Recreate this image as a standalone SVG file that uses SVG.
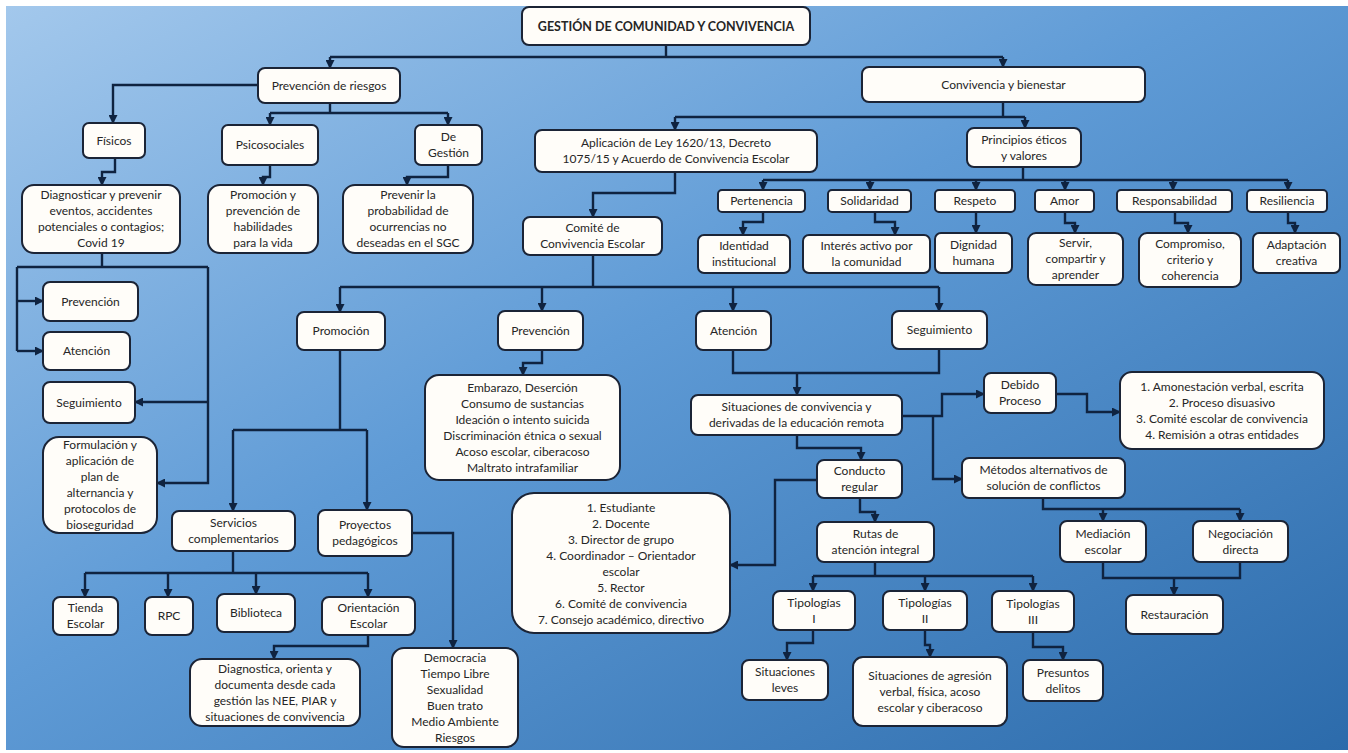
<svg xmlns="http://www.w3.org/2000/svg" width="1348" height="753" viewBox="0 0 1348 753">
<defs>
<linearGradient id="bg" x1="0" y1="0" x2="1" y2="1">
<stop offset="0" stop-color="#a3c8ec"/>
<stop offset="0.45" stop-color="#5f9bd6"/>
<stop offset="1" stop-color="#2c6bab"/>
</linearGradient>
<marker id="ar" markerUnits="userSpaceOnUse" markerWidth="9" markerHeight="9" refX="8" refY="4.5" orient="auto">
<path d="M0,0 L9,4.5 L0,9 z" fill="#0f2340"/>
</marker>
<style>
.n rect{fill:#fffdf9;stroke:#1b2436;stroke-width:2}
text{font-family:Lato,"Open Sans","Liberation Sans",sans-serif;font-size:12px;fill:#262626;text-anchor:middle}
.b{font-weight:bold;font-size:12.5px}
#connectors path{fill:none;stroke:#0f2340;stroke-width:2.4}
#connectors path.a{marker-end:url(#ar)}
</style>
</defs>
<rect x="0" y="0" width="1348" height="753" fill="#ffffff"/>
<rect x="6" y="6" width="1342" height="744" fill="url(#bg)"/>

<g id="connectors">
<path d="M666,45 V57 M330,57 H1003"/>
<path class="a" d="M330,57 V68"/>
<path class="a" d="M1003,57 V67"/>
<path class="a" d="M258,85 H113 V123"/>
<path d="M330,103 V113 M270,113 H448"/>
<path class="a" d="M270,113 V125"/>
<path class="a" d="M448,113 V125"/>
<path class="a" d="M115,158 V172 H102 V185"/>
<path class="a" d="M270,165 V177 H263 V185"/>
<path class="a" d="M448,165 V177 H407 V185"/>
<path d="M102,253 V267 M17,267 H208 M17,267 V351"/>
<path class="a" d="M17,301 H43"/>
<path class="a" d="M17,351 H43"/>
<path class="a" d="M208,267 V483 H157"/>
<path class="a" d="M208,402 H135"/>
<path d="M1003,102 V117 M675,117 H1025"/>
<path class="a" d="M675,117 V130"/>
<path class="a" d="M1025,117 V128"/>
<path d="M1023,167 V180 M763,180 H1288"/>
<path class="a" d="M763,180 V190"/>
<path class="a" d="M870,180 V190"/>
<path class="a" d="M976,180 V190"/>
<path class="a" d="M1065,180 V190"/>
<path class="a" d="M1173,180 V190"/>
<path class="a" d="M1288,180 V190"/>
<path class="a" d="M763,212 V222 H743 V235"/>
<path class="a" d="M875,212 V222 H895 V235"/>
<path class="a" d="M976,212 V233"/>
<path class="a" d="M1065,212 V223 H1075 V233"/>
<path class="a" d="M1175,212 V223 H1188 V233"/>
<path class="a" d="M1288,212 V223 H1295 V233"/>
<path class="a" d="M675,172 V193 H593 V217"/>
<path d="M593,255 V287 M340,287 H939"/>
<path class="a" d="M340,287 V312"/>
<path class="a" d="M542,287 V311"/>
<path class="a" d="M733,287 V311"/>
<path class="a" d="M939,287 V311"/>
<path d="M340,350 V430 M233,430 H367"/>
<path class="a" d="M233,430 V511"/>
<path class="a" d="M367,430 V510"/>
<path class="a" d="M542,350 V363 H523 V375"/>
<path d="M733,350 V373 H939 V349"/>
<path class="a" d="M797,373 V395"/>
<path class="a" d="M797,435 V448 H861 V460"/>
<path class="a" d="M902,416 H942 V394 H984"/>
<path class="a" d="M933,416 V479 H962"/>
<path class="a" d="M1056,394 H1087 V412 H1120"/>
<path d="M1043,498 V509 H1240"/>
<path class="a" d="M1103,509 V521"/>
<path class="a" d="M1240,509 V521"/>
<path d="M1103,562 V578 H1240 V562"/>
<path class="a" d="M1174,578 V595"/>
<path class="a" d="M817,480 H775 V565 H730"/>
<path class="a" d="M860,498 V512 H875 V522"/>
<path d="M875,562 V576 M813,576 H1033"/>
<path class="a" d="M813,576 V591"/>
<path class="a" d="M925,576 V591"/>
<path class="a" d="M1033,576 V591"/>
<path class="a" d="M813,630 V643 H787 V660"/>
<path class="a" d="M925,630 V645 H930 V657"/>
<path class="a" d="M1033,632 V647 H1063 V660"/>
<path class="a" d="M412,533 H453 V648"/>
<path d="M233,551 V573 M85,573 H368"/>
<path class="a" d="M85,573 V597"/>
<path class="a" d="M168,573 V597"/>
<path class="a" d="M256,573 V594"/>
<path class="a" d="M368,573 V597"/>
<path class="a" d="M368,635 V646 H274 V659"/>
</g>

<g id="title" class="n"><rect x="522" y="7" width="288" height="38" rx="7"/><text class="b" x="666" y="30.5">GESTIÓN DE COMUNIDAD Y CONVIVENCIA</text></g>
<g id="prev-riesgos" class="n"><rect x="258" y="68" width="142" height="35" rx="7"/><text x="329" y="89.5">Prevención de riesgos</text></g>
<g id="fisicos" class="n"><rect x="83" y="123" width="62" height="35" rx="6"/><text x="114" y="144.5">Físicos</text></g>
<g id="psicosociales" class="n"><rect x="222" y="125" width="96" height="40" rx="6"/><text x="270" y="149">Psicosociales</text></g>
<g id="de-gestion" class="n"><rect x="415" y="125" width="67" height="40" rx="6"/><text x="448.5" y="141">De</text><text x="448.5" y="157">Gestión</text></g>
<g id="diagnosticar" class="n"><rect x="22" y="185" width="158" height="68" rx="12"/><text x="101" y="199">Diagnosticar y prevenir</text><text x="101" y="215">eventos, accidentes</text><text x="101" y="231">potenciales o contagios;</text><text x="101" y="247">Covid 19</text></g>
<g id="promocion-hab" class="n"><rect x="208" y="185" width="110" height="68" rx="12"/><text x="263" y="199">Promoción y</text><text x="263" y="215">prevención de</text><text x="263" y="231">habilidades</text><text x="263" y="247">para la vida</text></g>
<g id="prevenir-prob" class="n"><rect x="343" y="185" width="130" height="68" rx="12"/><text x="408" y="199">Prevenir la</text><text x="408" y="215">probabilidad de</text><text x="408" y="231">ocurrencias no</text><text x="408" y="247">deseadas en el SGC</text></g>
<g id="prevencion-f" class="n"><rect x="43" y="282" width="95" height="39" rx="7"/><text x="90.5" y="305.5">Prevención</text></g>
<g id="atencion-f" class="n"><rect x="43" y="332" width="87" height="38" rx="7"/><text x="86.5" y="355">Atención</text></g>
<g id="seguimiento-f" class="n"><rect x="43" y="382" width="92" height="41" rx="7"/><text x="89" y="406.5">Seguimiento</text></g>
<g id="formulacion" class="n"><rect x="43" y="437" width="114" height="96" rx="16"/><text x="100" y="449">Formulación y</text><text x="100" y="465">aplicación de</text><text x="100" y="481">plan de</text><text x="100" y="497">alternancia y</text><text x="100" y="513">protocolos de</text><text x="100" y="529">bioseguridad</text></g>

<g id="convivencia" class="n"><rect x="862" y="67" width="283" height="35" rx="7"/><text x="1003.5" y="88.5">Convivencia y bienestar</text></g>
<g id="aplicacion" class="n"><rect x="535" y="130" width="282" height="42" rx="7"/><text x="676" y="147">Aplicación de Ley 1620/13, Decreto</text><text x="676" y="163">1075/15 y Acuerdo de Convivencia Escolar</text></g>
<g id="principios" class="n"><rect x="967" y="128" width="114" height="39" rx="7"/><text x="1024" y="143.5">Principios éticos</text><text x="1024" y="159.5">y valores</text></g>
<g id="pertenencia" class="n"><rect x="718" y="190" width="87" height="22" rx="4"/><text x="761.5" y="205">Pertenencia</text></g>
<g id="solidaridad" class="n"><rect x="828" y="190" width="83" height="22" rx="4"/><text x="869.5" y="205">Solidaridad</text></g>
<g id="respeto" class="n"><rect x="935" y="190" width="80" height="22" rx="4"/><text x="975" y="205">Respeto</text></g>
<g id="amor" class="n"><rect x="1035" y="190" width="59" height="22" rx="4"/><text x="1064.5" y="205">Amor</text></g>
<g id="responsabilidad" class="n"><rect x="1117" y="190" width="115" height="22" rx="4"/><text x="1174.5" y="205">Responsabilidad</text></g>
<g id="resiliencia" class="n"><rect x="1247" y="190" width="80" height="22" rx="4"/><text x="1287" y="205">Resiliencia</text></g>
<g id="identidad" class="n"><rect x="698" y="235" width="92" height="38" rx="6"/><text x="744" y="250">Identidad</text><text x="744" y="266">institucional</text></g>
<g id="interes" class="n"><rect x="803" y="235" width="127" height="38" rx="6"/><text x="866.5" y="250">Interés activo por</text><text x="866.5" y="266">la comunidad</text></g>
<g id="dignidad" class="n"><rect x="935" y="233" width="77" height="40" rx="6"/><text x="973.5" y="249">Dignidad</text><text x="973.5" y="265">humana</text></g>
<g id="servir" class="n"><rect x="1028" y="233" width="95" height="52" rx="8"/><text x="1075.5" y="247">Servir,</text><text x="1075.5" y="263">compartir y</text><text x="1075.5" y="279">aprender</text></g>
<g id="compromiso" class="n"><rect x="1139" y="233" width="102" height="54" rx="8"/><text x="1190" y="248">Compromiso,</text><text x="1190" y="264">criterio y</text><text x="1190" y="280">coherencia</text></g>
<g id="adaptacion" class="n"><rect x="1253" y="233" width="87" height="40" rx="6"/><text x="1296.5" y="249">Adaptación</text><text x="1296.5" y="265">creativa</text></g>
<g id="comite" class="n"><rect x="523" y="217" width="139" height="38" rx="7"/><text x="592.5" y="232">Comité de</text><text x="592.5" y="248">Convivencia Escolar</text></g>
<g id="promocion" class="n"><rect x="297" y="312" width="88" height="38" rx="7"/><text x="341" y="335">Promoción</text></g>
<g id="prevencion" class="n"><rect x="498" y="311" width="85" height="39" rx="7"/><text x="540.5" y="334.5">Prevención</text></g>
<g id="atencion" class="n"><rect x="696" y="311" width="75" height="39" rx="7"/><text x="733.5" y="334.5">Atención</text></g>
<g id="seguimiento" class="n"><rect x="892" y="311" width="95" height="38" rx="7"/><text x="939.5" y="334">Seguimiento</text></g>
<g id="embarazo" class="n"><rect x="425" y="375" width="195" height="105" rx="14"/><text x="522.5" y="391.5">Embarazo, Deserción</text><text x="522.5" y="407.5">Consumo de sustancias</text><text x="522.5" y="423.5">Ideación o intento suicida</text><text x="522.5" y="439.5">Discriminación étnica o sexual</text><text x="522.5" y="455.5">Acoso escolar, ciberacoso</text><text x="522.5" y="471.5">Maltrato intrafamiliar</text></g>
<g id="situaciones" class="n"><rect x="691" y="395" width="211" height="40" rx="7"/><text x="796.5" y="411">Situaciones de convivencia y</text><text x="796.5" y="427">derivadas de la educación remota</text></g>
<g id="debido" class="n"><rect x="984" y="373" width="72" height="40" rx="7"/><text x="1020" y="389">Debido</text><text x="1020" y="405">Proceso</text></g>
<g id="amonestacion" class="n"><rect x="1120" y="372" width="204" height="77" rx="12"/><text x="1222" y="390.5">1. Amonestación verbal, escrita</text><text x="1222" y="406.5">2. Proceso disuasivo</text><text x="1222" y="422.5">3. Comité escolar de convivencia</text><text x="1222" y="438.5">4. Remisión a otras entidades</text></g>
<g id="conducto" class="n"><rect x="817" y="460" width="85" height="38" rx="7"/><text x="859.5" y="475">Conducto</text><text x="859.5" y="491">regular</text></g>
<g id="metodos" class="n"><rect x="962" y="458" width="163" height="40" rx="7"/><text x="1043.5" y="474">Métodos alternativos de</text><text x="1043.5" y="490">solución de conflictos</text></g>
<g id="lista" class="n"><rect x="512" y="493" width="218" height="140" rx="22"/><text x="621" y="512">1. Estudiante</text><text x="621" y="528">2. Docente</text><text x="621" y="544">3. Director de grupo</text><text x="621" y="560">4. Coordinador – Orientador</text><text x="621" y="576">escolar</text><text x="621" y="592">5. Rector</text><text x="621" y="608">6. Comité de convivencia</text><text x="621" y="624">7. Consejo académico, directivo</text></g>
<g id="rutas" class="n"><rect x="817" y="522" width="117" height="40" rx="7"/><text x="875.5" y="538">Rutas de</text><text x="875.5" y="554">atención integral</text></g>
<g id="mediacion" class="n"><rect x="1060" y="521" width="86" height="41" rx="7"/><text x="1103" y="537.5">Mediación</text><text x="1103" y="553.5">escolar</text></g>
<g id="negociacion" class="n"><rect x="1193" y="521" width="95" height="41" rx="7"/><text x="1240.5" y="537.5">Negociación</text><text x="1240.5" y="553.5">directa</text></g>
<g id="restauracion" class="n"><rect x="1126" y="595" width="97" height="39" rx="7"/><text x="1174.5" y="618.5">Restauración</text></g>
<g id="tip1" class="n"><rect x="773" y="591" width="82" height="39" rx="7"/><text x="814" y="606.5">Tipologías</text><text x="814" y="622.5">I</text></g>
<g id="tip2" class="n"><rect x="883" y="591" width="84" height="39" rx="7"/><text x="925" y="606.5">Tipologías</text><text x="925" y="622.5">II</text></g>
<g id="tip3" class="n"><rect x="992" y="591" width="82" height="41" rx="7"/><text x="1033" y="607.5">Tipologías</text><text x="1033" y="623.5">III</text></g>
<g id="leves" class="n"><rect x="742" y="660" width="86" height="40" rx="7"/><text x="785" y="676">Situaciones</text><text x="785" y="692">leves</text></g>
<g id="agresion" class="n"><rect x="853" y="657" width="154" height="69" rx="10"/><text x="930" y="679.5">Situaciones de agresión</text><text x="930" y="695.5">verbal, física, acoso</text><text x="930" y="711.5">escolar y ciberacoso</text></g>
<g id="presuntos" class="n"><rect x="1023" y="660" width="80" height="41" rx="7"/><text x="1063" y="676.5">Presuntos</text><text x="1063" y="692.5">delitos</text></g>
<g id="servicios" class="n"><rect x="172" y="511" width="123" height="40" rx="7"/><text x="233.5" y="527">Servicios</text><text x="233.5" y="543">complementarios</text></g>
<g id="proyectos" class="n"><rect x="318" y="510" width="94" height="46" rx="7"/><text x="365" y="529">Proyectos</text><text x="365" y="545">pedagógicos</text></g>
<g id="democracia" class="n"><rect x="392" y="648" width="126" height="99" rx="12"/><text x="455" y="661.5">Democracia</text><text x="455" y="677.5">Tiempo Libre</text><text x="455" y="693.5">Sexualidad</text><text x="455" y="709.5">Buen trato</text><text x="455" y="725.5">Medio Ambiente</text><text x="455" y="741.5">Riesgos</text></g>
<g id="tienda" class="n"><rect x="53" y="597" width="65" height="38" rx="7"/><text x="85.5" y="612">Tienda</text><text x="85.5" y="628">Escolar</text></g>
<g id="rpc" class="n"><rect x="145" y="597" width="48" height="38" rx="7"/><text x="169" y="620">RPC</text></g>
<g id="biblioteca" class="n"><rect x="217" y="594" width="78" height="38" rx="7"/><text x="256" y="617">Biblioteca</text></g>
<g id="orientacion" class="n"><rect x="322" y="597" width="93" height="38" rx="7"/><text x="368.5" y="612">Orientación</text><text x="368.5" y="628">Escolar</text></g>
<g id="diagnostica" class="n"><rect x="190" y="659" width="170" height="67" rx="12"/><text x="275" y="672.5">Diagnostica, orienta y</text><text x="275" y="688.5">documenta desde cada</text><text x="275" y="704.5">gestión las NEE, PIAR y</text><text x="275" y="720.5">situaciones de convivencia</text></g>
</svg>
